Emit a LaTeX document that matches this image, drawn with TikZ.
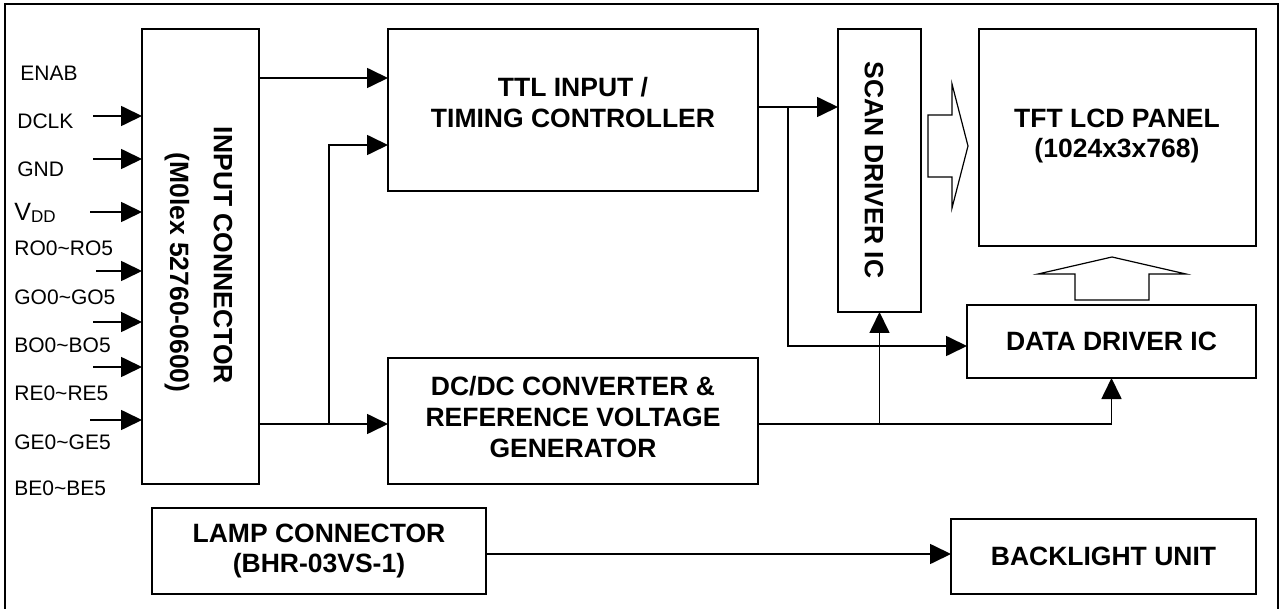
\documentclass[tikz,border=0pt]{standalone}
\usepackage{fontspec}
\setmainfont{Liberation Sans}
\usetikzlibrary{arrows.meta}
\begin{document}
\begin{tikzpicture}[x=0.5pt,y=-0.5pt,
  box/.style 2 args={draw, line width=1.2pt, inner sep=0pt, outer sep=0pt, minimum width=#1*0.5pt, minimum height=#2*0.5pt},
  big/.style={font=\fontsize{13.25}{15.4}\selectfont\bfseries, align=center, inner sep=0pt},
  sig/.style={font=\fontsize{10.5}{12}\selectfont, anchor=west, inner sep=0pt},
  arr/.style={line width=0.85pt, -{Triangle[length=10.5pt,width=10pt]}},
  hollow/.style={draw, line width=0.6pt, line join=miter}
]
\useasboundingbox (0,0) rectangle (1280,609);
% outer frame (open at the bottom)
\draw[line width=0.6pt] (5,609) -- (5,4) -- (1278,4) -- (1278,609);

% boxes
\node[box={117}{455}] (inc) at (200.5,256.5) {};
\node[box={370}{162}] (ttl) at (573,110) {};
\node[box={370}{126}] (dcdc) at (573,421) {};
\node[box={83}{283}] (scan) at (879.5,170.5) {};
\node[box={277}{217}] (tft) at (1117.5,137.5) {};
\node[box={289}{73}, big] (data) at (1111.5,341.5) {DATA DRIVER IC};
\node[box={305}{75}, big] (back) at (1103.5,556.5) {BACKLIGHT UNIT};
\node[box={334}{86}, big] (lamp) at (319,551) {LAMP CONNECTOR\\(BHR-03VS-1)};

% box texts
\node[big, rotate=-90] (inct1) at (223,255.5) {INPUT CONNECTOR};
\node[big, rotate=-90] (inct2) at (177,272.5) {(M0lex 52760-0600)};
\node[big] (ttlt) at (573,102.5) {TTL INPUT /\\TIMING CONTROLLER};
\node[big] (dcdct) at (573,417) {DC/DC CONVERTER \&\\REFERENCE VOLTAGE\\GENERATOR};
\node[big, rotate=-90] (scant) at (874,170) {SCAN DRIVER IC};
\node[big] (tftt) at (1117,136) {TFT LCD PANEL\\(1024x3x768)};

% signal labels
\node[sig] (l1) at (20,73) {ENAB};
\node[sig] (l2) at (17,121) {DCLK};
\node[sig] (l3) at (17,169) {GND};
\node[inner sep=0pt, anchor=base west] (l4) at (14,221) {\fontsize{12.5}{14}\selectfont V\raisebox{-1pt}{\fontsize{8.5}{10}\selectfont DD}};
\node[sig] (l5) at (14,248) {RO0\textasciitilde RO5};
\node[sig] (l6) at (14,297) {GO0\textasciitilde GO5};
\node[sig] (l7) at (14,345) {BO0\textasciitilde BO5};
\node[sig] (l8) at (14,393) {RE0\textasciitilde RE5};
\node[sig] (l9) at (14,442) {GE0\textasciitilde GE5};
\node[sig] (l10) at (14,488) {BE0\textasciitilde BE5};

% input arrow start points
\coordinate (i1) at (93,116);
\coordinate (i2) at (93,159);
\coordinate (i3) at (90,212);
\coordinate (i4) at (96,271);
\coordinate (i5) at (93,322);
\coordinate (i6) at (93,367);
\coordinate (i7) at (90,420);
\foreach \i in {i1,i2,i3,i4,i5,i6,i7} \draw[arr] (\i) -- (inc.west |- \i);

% levels and junctions
\coordinate (h78) at (0,78);
\coordinate (h107) at (0,107);
\coordinate (h145) at (0,145);
\coordinate (h346) at (0,346);
\coordinate (h424) at (0,424);
\coordinate (h554) at (0,554);
\coordinate (j1) at (329,424);
\coordinate (j2) at (788,107);

\draw[arr] (inc.east |- h78) -- (ttl.west |- h78);
\draw[arr] (inc.east |- h424) -- (dcdc.west |- h424);
\draw[arr] (j1) |- (ttl.west |- h145);
\draw[arr] (ttl.east |- h107) -- (scan.west |- h107);
\draw[arr] (j2) |- (data.west |- h346);
\draw[arr] (dcdc.east |- h424) -| (data.south);
\draw[arr] (scan.south |- h424) -- (scan.south);
\draw[arr] (lamp.east |- h554) -- (back.west |- h554);

% hollow arrows
\draw[hollow] (928,115) -- (952,115) -- (952,84) -- (968,146) -- (952,208) -- (952,177) -- (928,177) -- cycle;
\draw[hollow] (1075,300) -- (1075,274) -- (1038,274) -- (1112,257) -- (1186,274) -- (1149,274) -- (1149,300) -- cycle;
\end{tikzpicture}
\end{document}
